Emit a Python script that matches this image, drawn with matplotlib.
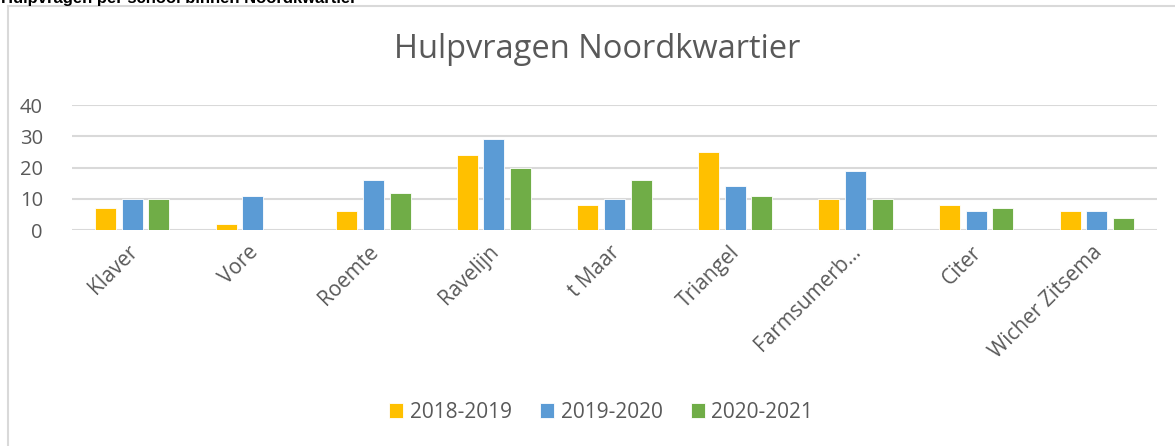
import matplotlib
matplotlib.use("Agg")
import matplotlib.pyplot as plt
import numpy as np
from matplotlib.lines import Line2D
from matplotlib.transforms import offset_copy

plt.rcParams['font.family'] = ['Open Sans', 'DejaVu Sans']

categories = ["Klaver", "Vore", "Roemte", "Ravelijn", "t Maar", "Triangel",
              "Farmsumerb\u2026", "Citer", "Wicher Zitsema"]
series_names = ["2018-2019", "2019-2020", "2020-2021"]
s2018 = [7, 2, 6, 24, 8, 25, 10, 8, 6]
s2019 = [10, 11, 16, 29, 10, 14, 19, 6, 6]
s2020 = [10, 0, 12, 20, 16, 11, 10, 7, 4]
colors = ["#FFC000", "#5B9BD5", "#70AD47"]
yticks = [0, 10, 20, 30, 40]

W, H = 1175, 446
fig = plt.figure(figsize=(W / 100, H / 100), dpi=100)
fig.patch.set_facecolor("white")

# outer frame lines (left and top)
fig.add_artist(Line2D([8 / W, 8 / W], [0, 1 - 6 / H], transform=fig.transFigure,
                      color="#d9d9d9", lw=1.5))
fig.add_artist(Line2D([8 / W, 1], [1 - 6 / H, 1 - 6 / H], transform=fig.transFigure,
                      color="#d9d9d9", lw=1.5))

# heading, cut off at the very top as in the reference
fig.text(1 / W, 1 - 2.5 / H, "Hulpvragen per school binnen Noordkwartier",
         family=["Liberation Sans", "DejaVu Sans"], fontweight="bold",
         fontsize=12, color="black", ha="left", va="baseline")

ax = fig.add_axes([72 / W, 1 - 230 / H, (1157 - 72) / W, (230 - 105) / H])
x = np.arange(len(categories))
bw = 0.174
off = 0.221
for i, (vals, name) in enumerate(zip([s2018, s2019, s2020], series_names)):
    ax.bar(x + (i - 1) * off, vals, width=bw, color=colors[i], label=name,
           edgecolor="white", linewidth=0.6, zorder=3)

ax.set_xlim(-0.5, len(categories) - 0.5)
ax.set_ylim(0, 40)
ax.set_yticks(yticks)
ax.set_yticklabels([str(v) for v in yticks], fontsize=14.5, color="#595959")
ax.yaxis.grid(True, color="#d9d9d9", linewidth=1.5, zorder=0)
ax.set_axisbelow(True)
for sp in ax.spines.values():
    sp.set_visible(False)
ax.tick_params(axis="y", length=0, pad=21)
ax.tick_params(axis="x", length=0)
ax.set_xticks(x)
ax.set_xticklabels([])

trans = offset_copy(ax.get_xaxis_transform(), fig=fig, x=2, y=-19, units="dots")
for xi, lab in zip(x, categories):
    ax.text(xi, 0, lab, transform=trans, rotation=45, rotation_mode="anchor",
            ha="right", va="center", fontsize=15, color="#595959")

fig.text(597 / W, 1 - 50 / H, "Hulpvragen Noordkwartier", ha="center", va="center",
         fontsize=23.5, color="#595959")

handles, labels = ax.get_legend_handles_labels()
leg = fig.legend(handles, labels, loc="center", bbox_to_anchor=(601 / W, 1 - 412 / H),
                 ncol=3, frameon=False, fontsize=15, handlelength=0.7, handleheight=0.7,
                 handletextpad=0.3, columnspacing=1.35, labelcolor="#595959")

fig.savefig("out.png", dpi=100, facecolor="white")
